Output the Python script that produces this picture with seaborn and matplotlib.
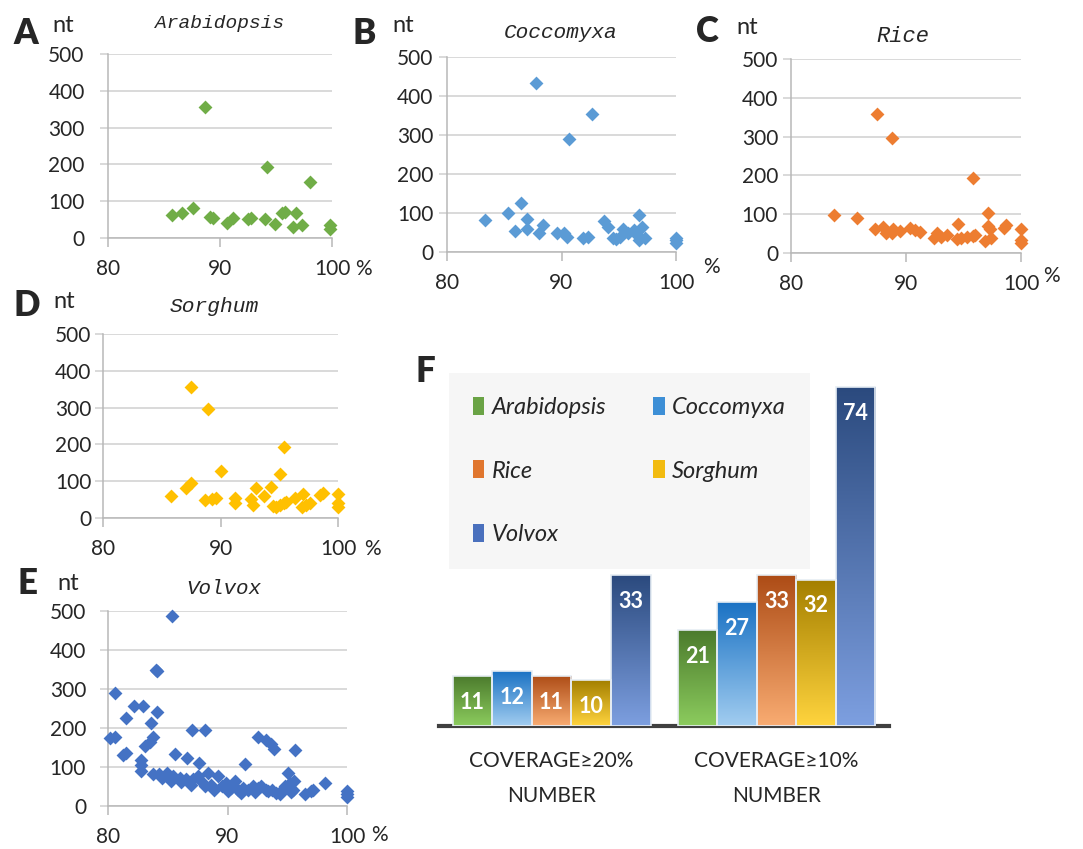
import numpy as np
import pandas as pd
import matplotlib
matplotlib.use('Agg')
import matplotlib.pyplot as plt
import seaborn as sns
from matplotlib.colors import LinearSegmentedColormap
from matplotlib.patches import Patch, Rectangle

W, H = 1083, 849

# ---------- scatter data: coverage (%) vs length (nt) ----------
arab_x = [85.7, 86.6, 87.6, 88.7, 89.1, 89.4, 90.6, 91.2, 92.5, 92.8, 94.0, 94.2, 94.9,
          95.5, 95.8, 96.8, 96.5, 97.3, 98.0, 99.8, 99.8]
arab_y = [62, 69, 81, 355, 57, 54, 42, 53, 52, 53, 51, 192, 38,
          69, 72, 69, 29, 36, 153, 35, 24]

cocc_x = [83.3, 85.3, 86.5, 85.9, 87.0, 87.0, 87.75, 88.0, 88.4, 89.6, 90.2, 90.5, 90.66,
          91.9, 92.3, 92.64, 93.7, 94.1, 94.5, 94.8, 95.1, 95.4, 95.8, 96.3, 96.6, 96.8,
          97.0, 96.8, 97.3, 100, 100, 100]
cocc_y = [83, 101, 126, 55, 85, 59, 434, 48, 70, 48, 49, 39, 291,
          36, 38, 354, 79, 65, 35, 33, 38, 58, 48, 56, 44, 96,
          65, 30, 35, 36, 30, 24]

rice_x = [83.7, 85.7, 87.3, 87.45, 88.0, 88.3, 88.76, 88.9, 88.8, 89.5, 90.35, 90.8, 91.2,
          92.4, 92.7, 93.0, 93.6, 94.4, 94.55, 94.8, 95.3, 95.8, 95.85, 96.0, 96.9, 97.1,
          97.1, 97.3, 97.4, 98.5, 98.7, 100, 100, 100]
rice_y = [97, 91, 61, 357, 68, 51, 51, 61, 297, 57, 65, 59, 55,
          38, 51, 42, 46, 35, 74, 38, 40, 44, 193, 46, 32, 104,
          70, 61, 38, 64, 72, 61, 34, 27]

sorg_x = [85.76, 87.06, 87.46, 87.46, 88.7, 88.96, 89.25, 89.6, 90.0, 91.2, 91.2, 92.6,
          92.8, 93.0, 93.7, 94.3, 94.5, 94.7, 95.1, 95.1, 95.4, 95.4, 95.6, 96.3, 96.9,
          97.0, 97.3, 97.6, 98.5, 98.7, 100, 100, 100]
sorg_y = [61, 81, 94, 356, 49, 296, 52, 54, 128, 55, 42, 51,
          35, 82, 60, 83, 33, 29, 35, 119, 40, 192, 43, 54, 29,
          65, 35, 40, 62, 69, 65, 40, 29]

volv_x = [85.36, 83.99, 84.1, 80.56, 82.18, 82.93, 81.53, 84.13, 83.63, 80.14, 80.56, 83.77,
          83.49, 83.07, 81.26, 81.53, 82.73, 82.79, 82.73, 85.58, 86.64, 87.03, 88.09, 87.59,
          83.77, 84.3, 84.9, 85.4, 86.0, 86.55, 87.1, 87.5, 87.8, 88.4, 88.65, 89.2, 89.5,
          89.9, 90.3, 90.6, 90.9, 91.3, 91.7, 92.1, 92.55, 92.8, 93.25, 93.7, 94.1, 94.5,
          94.8, 95.06, 95.2, 95.5, 95.6,
          84.5, 85.3, 86.1, 86.97, 88.1, 88.9, 90.04, 91.16, 92.27, 93.4, 94.37, 95.34,
          91.5, 92.55, 93.25, 93.6, 93.9, 95.68, 96.46, 97.0, 97.15, 98.13, 100, 100, 100]
volv_y = [487, 349, 346, 290, 256, 256, 225, 242, 214, 175, 178, 178,
          165, 153, 131, 137, 119, 106, 89, 134, 123, 195, 195, 110,
          81, 83, 85, 76, 72, 68, 68, 76, 64, 85, 55, 76, 51,
          59, 47, 64, 42, 47, 42, 51, 47, 51, 42, 42, 34, 38,
          51, 85, 59, 42, 64,
          72, 64, 61, 55, 51, 42, 38, 34, 36, 38, 32, 36,
          108, 178, 169, 159, 146, 144, 32, 38, 42, 59, 38, 30, 22]

# ---------- bar data ----------
species = ['Arabidopsis', 'Coccomyxa', 'Rice', 'Sorghum', 'Volvox']
groups = ['COVERAGE\u226520%\nNUMBER', 'COVERAGE\u226510%\nNUMBER']
count_20 = [11, 12, 11, 10, 33]
count_10 = [21, 27, 33, 32, 74]

mid_colors = ['#6aa345', '#3d8fd6', '#e0762e', '#f2bb10', '#4a70bd']
top_colors = ['#4b7a2c', '#1a72c4', '#ad4c16', '#a47f00', '#2b4a7e']
bot_colors = ['#8ccc5e', '#a2cdf0', '#f9ac72', '#ffd43e', '#7d9fe0']

sns.set_style('white')
plt.rcParams['font.family'] = ['Lato', 'DejaVu Sans']

fig = plt.figure(figsize=(W / 100, H / 100), dpi=100)


def px_axes(l, t, r, b):
    return fig.add_axes([l / W, 1 - b / H, (r - l) / W, (b - t) / H])


def fig_text(x, y, s, **kw):
    fig.text(x / W, 1 - y / H, s, **kw)


grid_col = '#d0d0d0'
axis_col = '#b8b8b8'

panels = [
    dict(x=arab_x, y=arab_y, c='#70ad47', name='Arabidopsis', letter='A', box=(108, 54, 332, 238),
         let=(26, 33), nt=(63, 26), title=(220, 23), tsize=14, ypad=11, pct=(363, 269)),
    dict(x=cocc_x, y=cocc_y, c='#5b9bd5', name='Coccomyxa', letter='B', box=(447, 57, 676, 252),
         let=(364, 33), nt=(403, 25), title=(561, 32), tsize=15.2, ypad=4, pct=(711, 267)),
    dict(x=rice_x, y=rice_y, c='#ed7d31', name='Rice', letter='C', box=(791, 59, 1021, 253),
         let=(707, 32), nt=(747, 28), title=(903, 36), tsize=15.8, ypad=3.5, pct=(1051, 276)),
    dict(x=sorg_x, y=sorg_y, c='#ffc000', name='Sorghum', letter='D', box=(103, 334, 338, 518),
         let=(27, 305), nt=(64, 301), title=(214, 307), tsize=15.3, ypad=2.5, pct=(372, 549)),
    dict(x=volv_x, y=volv_y, c='#4472c4', name='Volvox', letter='E', box=(108, 611, 347, 806),
         let=(27, 583), nt=(68, 583), title=(224, 588), tsize=15, ypad=10, pct=(379, 835)),
]

for p in panels:
    ax = px_axes(*p['box'])
    sns.scatterplot(x=p['x'], y=p['y'], marker='D', s=50, color=p['c'], linewidth=0,
                    ax=ax, clip_on=False, zorder=3)
    ax.set_xlim(80, 100)
    ax.set_ylim(0, 500)
    ax.set_xticks([80, 90, 100])
    ax.set_xticklabels(['80', '90', '100'])
    ax.set_yticks([0, 100, 200, 300, 400, 500])
    ax.yaxis.grid(True, color=grid_col, lw=1.1)
    ax.xaxis.grid(False)
    for side in ['top', 'right']:
        ax.spines[side].set_visible(False)
    for side in ['left', 'bottom']:
        ax.spines[side].set_color(axis_col)
        ax.spines[side].set_linewidth(1.1)
    ax.tick_params(axis='x', direction='out', length=6.5, width=1.1, color=axis_col,
                   labelsize=15, pad=8.5, bottom=True)
    ax.tick_params(axis='y', direction='out', length=5.8, width=1.1, color=grid_col,
                   labelsize=15, pad=p['ypad'], left=True)
    ax.set_facecolor('none')
    fig_text(*p['let'], p['letter'], fontsize=25, fontweight='heavy', ha='center', va='center')
    fig_text(*p['nt'], 'nt', fontsize=17, ha='center', va='center')
    fig_text(*p['title'], p['name'], fontsize=p['tsize'], style='italic',
             family='Liberation Mono', ha='center', va='center')
    fig_text(*p['pct'], '%', fontsize=15, ha='center', va='center')

# ---------- panel F ----------
bar_df = pd.DataFrame({
    'group': [groups[0]] * 5 + [groups[1]] * 5,
    'species': species * 2,
    'count': count_20 + count_10,
})

axF = px_axes(439, 360, 889, 726)
sns.barplot(data=bar_df, x='group', y='count', hue='species', order=groups, hue_order=species,
            palette=mid_colors, width=0.88, saturation=1, legend=False, ax=axF, zorder=2)

grad = np.linspace(0, 1, 256).reshape(-1, 1)
for i, cont in enumerate(axF.containers):
    cmap = LinearSegmentedColormap.from_list('g%d' % i, [bot_colors[i], top_colors[i]])
    for bar in cont:
        x0, y0 = bar.get_x(), bar.get_y()
        w, h = bar.get_width(), bar.get_height()
        im = axF.imshow(grad, extent=(x0, x0 + w, y0, y0 + h), origin='lower', cmap=cmap,
                        aspect='auto', zorder=3, interpolation='bicubic')
        im.set_clip_path(bar)
        axF.add_patch(Rectangle((x0, y0), w, h, fill=False, edgecolor='#e6edf4', lw=1.2, zorder=4))
        axF.annotate('%d' % h, (x0 + w / 2, h), xytext=(0, -19), textcoords='offset points',
                     ha='center', va='center', color='white', fontsize=15.5, fontweight='bold',
                     zorder=5)

axF.set_xlim(-0.5, 1.5)
axF.set_ylim(0, 80)
axF.set_xlabel('')
axF.set_ylabel('')
axF.set_yticks([])
axF.set_xticks([0, 1])
axF.set_xticklabels(groups, linespacing=1.95)
for side in ['top', 'right', 'left']:
    axF.spines[side].set_visible(False)
axF.spines['bottom'].set_color('#404040')
axF.spines['bottom'].set_linewidth(3)
axF.tick_params(axis='x', length=0, labelsize=15, pad=18)
axF.set_facecolor('none')

# legend rows: Arabidopsis Coccomyxa / Rice Sorghum / Volvox (column-first order)
order = [0, 2, 4, 1, 3]
handles = [Patch(facecolor=mid_colors[k], edgecolor='none', label=species[k]) for k in order]
leg = fig.legend(handles=handles, ncol=2, loc='upper left', bbox_to_anchor=(449 / W, 1 - 373 / H),
                 frameon=True, fancybox=False, facecolor='#f6f6f6', edgecolor='none', framealpha=1,
                 prop={'size': 17, 'style': 'italic'}, handlelength=0.5, handleheight=0.8,
                 handletextpad=0.3, labelspacing=1.8, columnspacing=2.0, borderpad=1.0,
                 borderaxespad=0)

fig_text(425, 371, 'F', fontsize=25, fontweight='heavy', ha='center', va='center')

fig.savefig('out.png', dpi=100)
